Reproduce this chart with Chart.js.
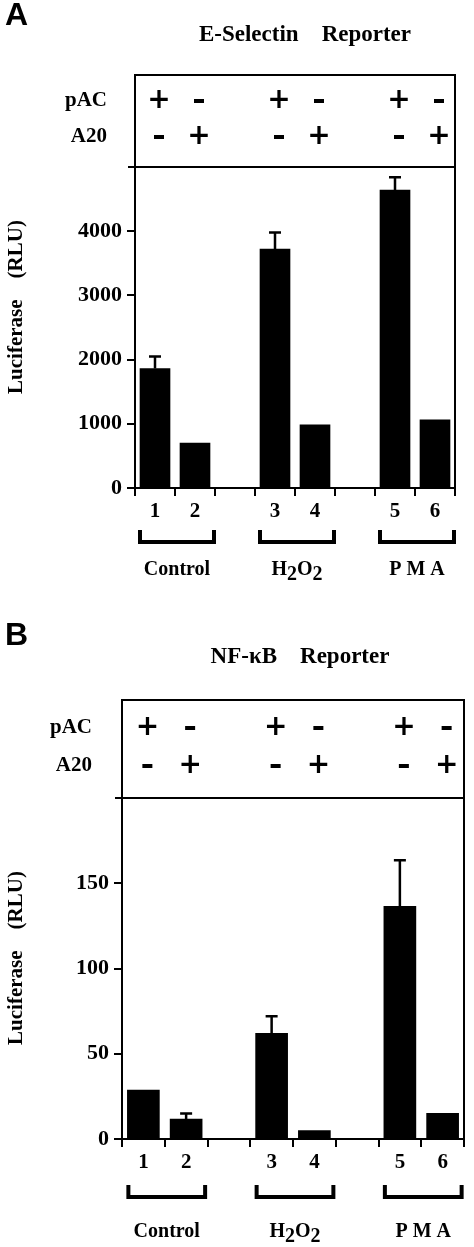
<!DOCTYPE html>
<html>
<head>
<meta charset="utf-8">
<script src="https://cdn.jsdelivr.net/npm/chart.js@4.4.0/dist/chart.umd.min.js"></script>
<style>
  body { margin: 0; background: #fff; }
  .panel { position: absolute; left: 0; width: 474px; }
</style>
</head>
<body>
<div class="panel" style="top:0;height:620px"><canvas id="chartA"></canvas></div>
<div class="panel" style="top:620px;height:627px"><canvas id="chartB"></canvas></div>
<script>
// lanes 1..6, grouped in pairs
const lanes = ['1', '2', '3', '4', '5', '6'];
const groups = ['Control', 'H2O2', 'PMA'];
const pacSigns = ['+', '-', '+', '-', '+', '-'];
const a20Signs = ['-', '+', '-', '+', '-', '+'];

// E-Selectin reporter (RLU)
const eselValues = [1860, 700, 3720, 985, 4640, 1060];
const eselErrTop = [2050, null, 3980, null, 4840, null];
const eselTicks = [0, 1000, 2000, 3000, 4000];

// NF-kB reporter (RLU)
const nfkbValues = [28.7, 11.7, 62, 5, 136.5, 15];
const nfkbErrTop = [null, 15, 72, null, 163.5, null];
const nfkbTicks = [0, 50, 100, 150];

const SERIF = '"Liberation Serif", "DejaVu Serif", serif';

// put an empty slot between each pair of lanes
function withGaps(arr, filler) {
    const out = [];
    arr.forEach((v, i) => {
        out.push(v);
        if (i % 2 === 1 && i < arr.length - 1) out.push(filler);
    });
    return out;
}

function makeChart(id, opts) {
    const labels = withGaps(lanes, '');
    const slotOf = i => i + Math.floor(i / 2); // lane index -> slot index

    const decor = {
        id: 'decor',
        afterDraw(chart) {
            const c = chart.ctx;
            const a = chart.chartArea;
            const x = chart.scales.x;
            const y = chart.scales.y;
            c.save();
            c.strokeStyle = '#000';
            c.fillStyle = '#000';

            // error bars
            c.lineWidth = 2.5;
            opts.errTop.forEach((e, i) => {
                if (e == null) return;
                const px = x.getPixelForValue(slotOf(i));
                const top = y.getPixelForValue(e);
                const base = y.getPixelForValue(opts.values[i]);
                c.beginPath();
                c.moveTo(px, base); c.lineTo(px, top);
                c.moveTo(px - 6, top); c.lineTo(px + 6, top);
                c.stroke();
            });

            // frame: sign box on top, right edge of plot
            c.lineWidth = 2;
            c.strokeRect(a.left, opts.boxTop, a.right - a.left, a.top - opts.boxTop);
            c.beginPath();
            c.moveTo(a.left - 7, a.top); c.lineTo(a.right, a.top);
            c.moveTo(a.right, a.top); c.lineTo(a.right, a.bottom);
            c.stroke();

            // sign table
            c.font = 'bold 21px ' + SERIF;
            c.textAlign = 'right';
            c.textBaseline = 'middle';
            c.fillText('pAC', opts.rowLabelRight, opts.pacY);
            c.fillText('A20', opts.rowLabelRight, opts.a20Y);
            c.textAlign = 'center';
            c.font = 'bold 28px "DejaVu Sans", sans-serif';
            lanes.forEach((l, i) => {
                const px = x.getPixelForValue(slotOf(i)) + 4;
                [[pacSigns[i], opts.pacY], [a20Signs[i], opts.a20Y]].forEach(([s, py]) => {
                    if (s === '+') c.fillText('+', px, py);
                    else c.fillRect(px - 5, py - 2, 10, 4);
                });
            });

            // brackets and group labels
            c.lineWidth = 4;
            groups.forEach((g, gi) => {
                const x1 = x.getPixelForValue(slotOf(gi * 2)) - 15;
                const x2 = x.getPixelForValue(slotOf(gi * 2 + 1)) + 19;
                c.beginPath();
                c.moveTo(x1, opts.bracketY);
                c.lineTo(x1, opts.bracketY + 12);
                c.lineTo(x2, opts.bracketY + 12);
                c.lineTo(x2, opts.bracketY);
                c.stroke();
                const cx = (x1 + x2) / 2;
                c.font = 'bold 20px ' + SERIF;
                c.textBaseline = 'middle';
                if (g === 'H2O2') {
                    const parts = [['H', 0], ['2', 5], ['O', 0], ['2', 5]];
                    let w = 0;
                    parts.forEach(([t]) => { w += c.measureText(t).width; });
                    let px = cx - w / 2;
                    c.textAlign = 'left';
                    parts.forEach(([t, dy]) => {
                        c.fillText(t, px, opts.groupY + dy);
                        px += c.measureText(t).width;
                    });
                    c.textAlign = 'center';
                } else {
                    c.fillText(g === 'PMA' ? 'P M A' : g, cx, opts.groupY);
                }
            });

            // titles
            c.textAlign = 'left';
            c.font = 'bold 32px "Liberation Sans", Arial, sans-serif';
            c.fillText(opts.letter, 5, opts.letterY);
            c.textAlign = 'center';
            c.font = 'bold 23px ' + SERIF;
            c.fillText(opts.title, opts.titleX, opts.titleY);

            c.save();
            c.translate(17, opts.axisTitleY);
            c.rotate(-Math.PI / 2);
            c.font = 'bold 21px ' + SERIF;
            c.fillText('Luciferase    (RLU)', 0, 0);
            c.restore();

            c.restore();
        }
    };

    return new Chart(document.getElementById(id), {
        type: 'bar',
        data: {
            labels: labels,
            datasets: [{
                data: withGaps(opts.values, null),
                backgroundColor: '#000',
                borderWidth: 0,
                barThickness: opts.barWidth
            }]
        },
        options: {
            responsive: true,
            maintainAspectRatio: false,
            animation: false,
            events: [],
            layout: { padding: { left: 0, top: opts.plotTop, right: 474 - opts.plotRight, bottom: opts.padBottom } },
            plugins: { legend: { display: false }, tooltip: { enabled: false } },
            scales: {
                x: {
                    afterFit: s => { s.height = 40; },
                    grid: { drawOnChartArea: false, tickLength: 8, color: '#000', lineWidth: 2 },
                    border: { color: '#000', width: 2 },
                    ticks: { color: '#000', font: { family: SERIF, size: 21, weight: 'bold' }, padding: 3, maxRotation: 0 }
                },
                y: {
                    min: 0,
                    max: opts.yMax,
                    afterFit: s => { s.width = opts.plotLeft; },
                    afterBuildTicks: s => { s.ticks = opts.ticks.map(v => ({ value: v })); },
                    grid: { drawOnChartArea: false, tickLength: 8, color: '#000', lineWidth: 2 },
                    border: { color: '#000', width: 2 },
                    ticks: { color: '#000', font: { family: SERIF, size: 22, weight: 'bold' }, padding: 5, callback: v => String(v) }
                }
            }
        },
        plugins: [decor]
    });
}

makeChart('chartA', {
    values: eselValues, errTop: eselErrTop, ticks: eselTicks, yMax: 5000,
    plotLeft: 135, plotRight: 455, plotTop: 167, padBottom: 620 - 488 - 40,
    boxTop: 75, barWidth: 30,
    pacY: 101, a20Y: 137, rowLabelRight: 107,
    bracketY: 530, groupY: 570,
    letter: 'A', letterY: 16, title: 'E-Selectin    Reporter', titleX: 305, titleY: 35,
    axisTitleY: 307
});

makeChart('chartB', {
    values: nfkbValues, errTop: nfkbErrTop, ticks: nfkbTicks, yMax: 200,
    plotLeft: 122, plotRight: 464, plotTop: 178, padBottom: 627 - 519 - 40,
    boxTop: 80, barWidth: 32,
    pacY: 108, a20Y: 146, rowLabelRight: 92,
    bracketY: 565, groupY: 612,
    letter: 'B', letterY: 16, title: 'NF-κB    Reporter', titleX: 300, titleY: 37,
    axisTitleY: 338
});
</script>
</body>
</html>
